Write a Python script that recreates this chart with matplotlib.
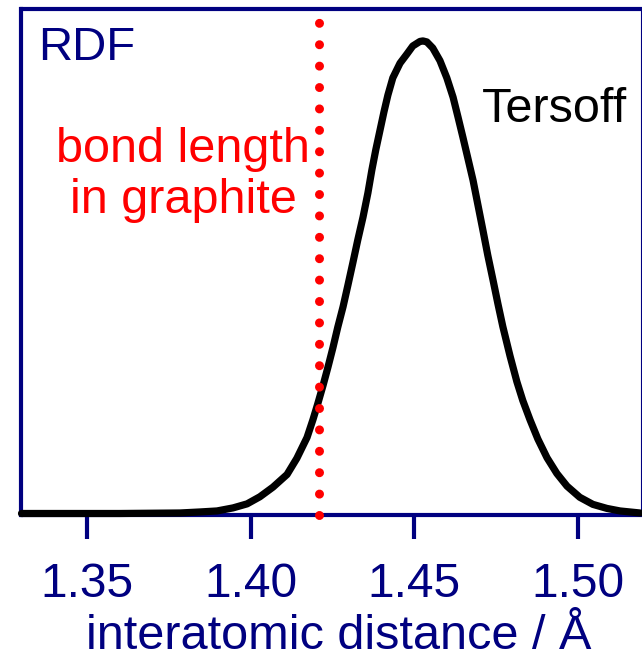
import matplotlib
matplotlib.use("Agg")
import matplotlib.pyplot as plt

# Data
distance = [1.3300, 1.3600, 1.3784, 1.3845, 1.3897, 1.3946, 1.3989, 1.4028, 1.4068,
            1.4111, 1.4141, 1.4172, 1.4190, 1.4205, 1.4221, 1.4236, 1.4251, 1.4266,
            1.4282, 1.4297, 1.4312, 1.4327, 1.4343, 1.4358, 1.4370, 1.4382, 1.4395,
            1.4407, 1.4419, 1.4434, 1.4456, 1.4477, 1.4495, 1.4517, 1.4526, 1.4538,
            1.4556, 1.4578, 1.4599, 1.4618, 1.4633, 1.4648, 1.4663, 1.4679, 1.4694,
            1.4709, 1.4724, 1.4740, 1.4755, 1.4770, 1.4792, 1.4813, 1.4831, 1.4853,
            1.4877, 1.4905, 1.4935, 1.4966, 1.5005, 1.5045, 1.5088, 1.5128, 1.5189]
rdf = [0.003, 0.003, 0.004, 0.006, 0.008, 0.014, 0.022, 0.036, 0.055,
       0.080, 0.112, 0.153, 0.188, 0.220, 0.256, 0.292, 0.330, 0.371,
       0.411, 0.454, 0.498, 0.543, 0.588, 0.636, 0.681, 0.721, 0.760,
       0.796, 0.829, 0.863, 0.892, 0.910, 0.926, 0.935, 0.936, 0.934,
       0.922, 0.897, 0.863, 0.825, 0.786, 0.746, 0.705, 0.661, 0.612,
       0.563, 0.513, 0.464, 0.417, 0.372, 0.314, 0.263, 0.226, 0.188,
       0.150, 0.113, 0.082, 0.057, 0.035, 0.021, 0.013, 0.008, 0.004]
bond_length_graphite = 1.421
tick_values = [1.35, 1.40, 1.45, 1.50]
tick_labels = ["1.35", "1.40", "1.45", "1.50"]

NAVY = "#000080"
FONT = "Liberation Sans"
W, H = 642, 659

fig = plt.figure(figsize=(W / 100, H / 100), dpi=100)
L, R, T, B = 21.5, 641.0, 8.5, 515.0
ax = fig.add_axes([L / W, (H - B) / H, (R - L) / W, (B - T) / H])
ax.set_xlim(1.33, 1.5192)
ax.set_ylim(0, 1)

ax.plot(distance, rdf, color="black", lw=5.2, solid_capstyle="round",
        solid_joinstyle="round", zorder=3, clip_on=False)
ax.axvline(bond_length_graphite, color="red", lw=6.5,
           linestyle=(0, (0.001, 15.4 / 6.5)), dash_capstyle="round",
           zorder=4, clip_on=False)

for side in ["left", "top", "bottom"]:
    ax.spines[side].set_color(NAVY)
    ax.spines[side].set_linewidth(3.0)
ax.spines["right"].set_color(NAVY)
ax.spines["right"].set_linewidth(0.8)

ax.set_yticks([])
ax.set_xticks(tick_values)
ax.set_xticklabels(tick_labels, fontfamily=FONT, fontsize=34.5, color=NAVY)
ax.tick_params(axis="x", direction="out", length=17, width=3, color=NAVY, pad=17)

def ftext(x, y, s, size=35, **kw):
    fig.text(x / W, 1 - y / H, s, fontfamily=FONT, fontsize=size, **kw)

ftext(38, 60, "RDF", size=34, color=NAVY, ha="left", va="baseline")
ftext(482, 122, "Tersoff", color="black", ha="left", va="baseline")
ftext(183, 213, "bond length\nin graphite", color="red", ha="center",
      va="baseline", linespacing=1.17, multialignment="center")
ftext(339, 649, "interatomic distance / Å", color=NAVY, ha="center", va="baseline")

fig.savefig("out.png", dpi=100)
